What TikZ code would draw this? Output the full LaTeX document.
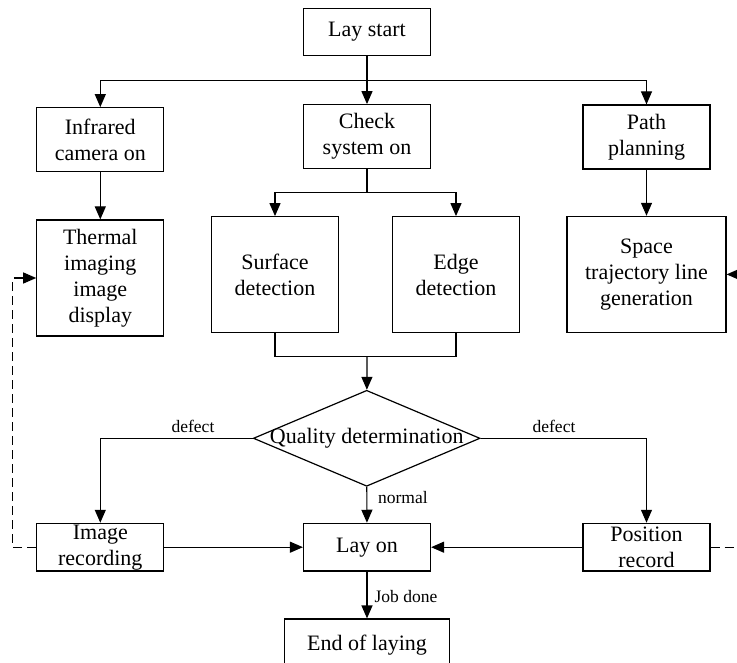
\documentclass[tikz,border=0pt]{standalone}
\usepackage{fontspec}
\setmainfont{Liberation Serif}
\usetikzlibrary{shapes.geometric,arrows.meta}

\begin{document}
\begin{tikzpicture}[x=1pt,y=-1pt,line width=1.2pt,
	plain/.style={inner sep=0pt,align=center,font=\fontsize{22}{26}\selectfont},
	box/.style={plain,draw,rectangle,minimum width=127pt},
	short/.style={box,minimum height=47.7pt},
	mid/.style={box,minimum height=64pt},
	tall/.style={box,minimum height=116pt},
	decision/.style={draw,diamond,inner sep=0pt,minimum width=226.7pt,minimum height=96pt},
	tag/.style={inner sep=0pt,font=\fontsize{17.5}{20}\selectfont},
	arr/.style={-{Triangle[length=13pt,width=11pt]}},
	back/.style={arr,dash pattern=on 9pt off 5pt}]
	 \useasboundingbox (0,0) rectangle (737,663);
	 \clip (0,0) rectangle (737,663);
	 
	 % Draw the boxes
	 \node[short] (start) at (367,32) {Lay start};
	 \node[mid] (infra) at (100.3,139.7) {Infrared\\camera on};
	 \node[mid] (check) at (367,136.7) {Check\\system on};
	 \node[mid] (path) at (646.5,137) {Path\\planning};
	 \node[tall] (thermal) at (100.3,278) {Thermal\\imaging\\image\\display};
	 \node[tall] (surface) at (275,274.7) {Surface\\detection};
	 \node[tall] (edge) at (456,274.7) {Edge\\detection};
	 \node[tall,minimum width=159pt] (space) at (646.5,274.4) {Space\\trajectory line\\generation};
	 \node[decision] (quality) at (366.7,438.3) {};
	 \node[plain] (qualitytext) at (quality) {Quality determination};
	 \node[short] (image) at (100.3,547.2) {Image\\recording};
	 \node[short] (layon) at (367,547.2) {Lay on};
	 \node[short] (position) at (646.5,547.2) {Position\\record};
	 \node[box,minimum width=164.3pt,minimum height=52pt] (endlay) at (367,645) {End of laying};
	 
	 % Branch points
	 \coordinate (split) at (367,80.7);
	 \coordinate (fork) at (367,192.7);
	 \coordinate (merge) at (367,356.7);
	 \coordinate (leftbot) at (12.7,547.2);
	 \coordinate (lefttop) at (12.7,278);
	 \coordinate (rightbot) at (760,547.2);
	 \coordinate (righttop) at (760,274.4);
	 
	 % Connect them
	 \draw (start) -- (split);
	 \draw[arr] (split) -- (check);
	 \draw[arr] (split) -| (infra);
	 \draw[arr] (split) -| (path);
	 \draw[arr] (infra) -- (thermal);
	 \draw (check) -- (fork);
	 \draw[arr] (fork) -| (surface);
	 \draw[arr] (fork) -| (edge);
	 \draw[arr] (path) -- (space);
	 \draw (surface.south) |- (merge) -| (edge.south);
	 \draw[arr] (merge) -- (quality);
	 \draw[arr] (quality.west) -| (image);
	 \draw[arr] (quality.east) -| (position);
	 \draw[arr] (quality) -- (layon);
	 \draw[arr] (image) -- (layon);
	 \draw[arr] (position) -- (layon);
	 \draw[arr] (layon) -- (endlay);
	 \draw[back] (image.west) -- (leftbot) -- (lefttop) -- (thermal.west);
	 \draw[back] (position.east) -- (rightbot) -- (righttop) -- (space.east);
	 
	 % Label the branches
	 \node[tag] (defectl) at (193,426.7) {defect};
	 \node[tag] (defectr) at (554,426.7) {defect};
	 \node[tag,anchor=west] (normal) at (377.5,497.3) {normal};
	 \node[tag,anchor=west] (jobdone) at (374,596.7) {Job done};
\end{tikzpicture}
\end{document}
